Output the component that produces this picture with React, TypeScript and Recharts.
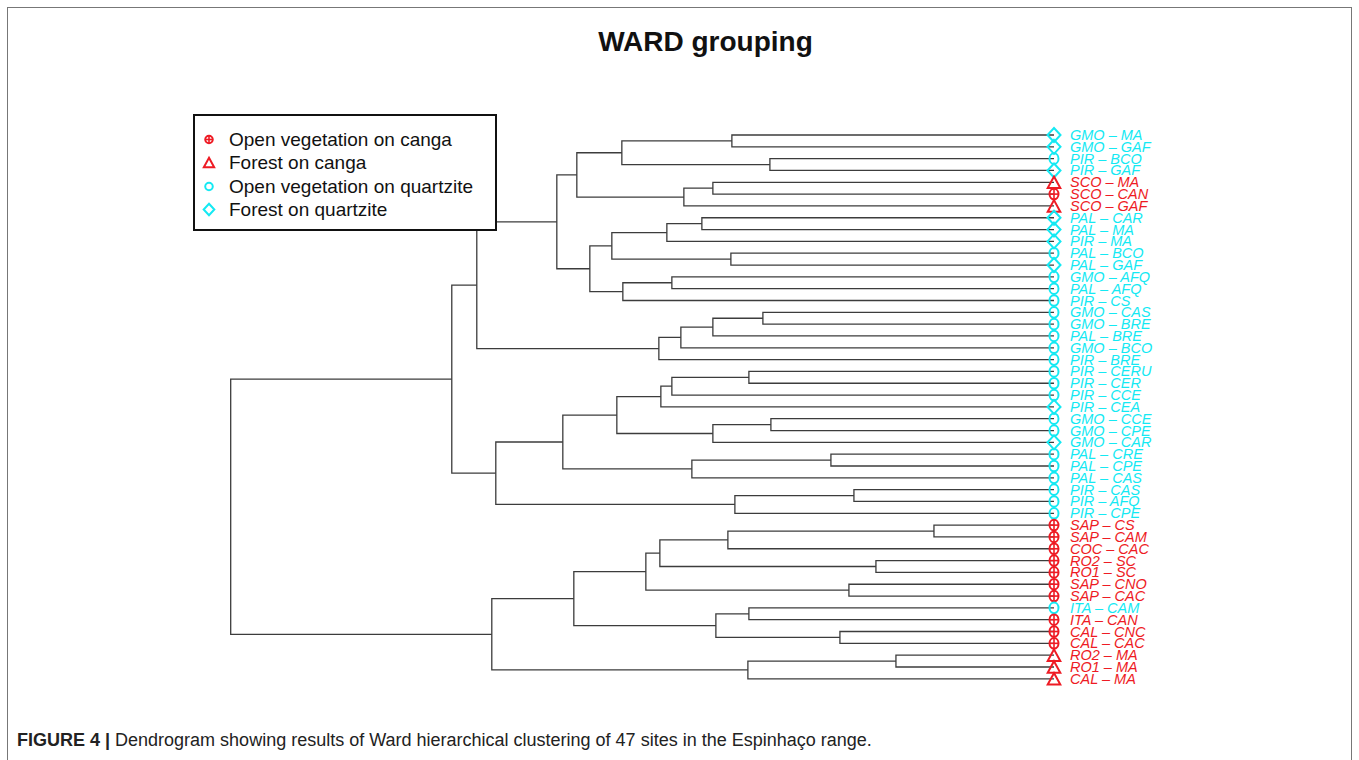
import React from 'react';
import { ScatterChart, Scatter, XAxis, YAxis, Legend } from 'recharts';

// Leaf labels in display order (top to bottom)
const leafLabels = [
  'GMO – MA', 'GMO – GAF', 'PIR – BCO', 'PIR – GAF', 'SCO – MA', 'SCO – CAN', 'SCO – GAF',
  'PAL – CAR', 'PAL – MA', 'PIR – MA', 'PAL – BCO', 'PAL – GAF', 'GMO – AFQ', 'PAL – AFQ',
  'PIR – CS', 'GMO – CAS', 'GMO – BRE', 'PAL – BRE', 'GMO – BCO', 'PIR – BRE', 'PIR – CERU',
  'PIR – CER', 'PIR – CCE', 'PIR – CEA', 'GMO – CCE', 'GMO – CPE', 'GMO – CAR', 'PAL – CRE',
  'PAL – CPE', 'PAL – CAS', 'PIR – CAS', 'PIR – AFQ', 'PIR – CPE', 'SAP – CS', 'SAP – CAM',
  'COC – CAC', 'RO2 – SC', 'RO1 – SC', 'SAP – CNO', 'SAP – CAC', 'ITA – CAM', 'ITA – CAN',
  'CAL – CNC', 'CAL – CAC', 'RO2 – MA', 'RO1 – MA', 'CAL – MA',
];

// ovc = open vegetation on canga, fc = forest on canga,
// ovq = open vegetation on quartzite, fq = forest on quartzite
const leafTypes = [
  'fq', 'fq', 'ovq', 'fq', 'fc', 'ovc', 'fc',
  'fq', 'fq', 'fq', 'ovq', 'fq', 'ovq', 'ovq',
  'ovq', 'ovq', 'ovq', 'ovq', 'ovq', 'ovq', 'ovq',
  'ovq', 'ovq', 'fq', 'ovq', 'ovq', 'fq', 'ovq',
  'ovq', 'ovq', 'ovq', 'ovq', 'ovq', 'ovc', 'ovc',
  'ovc', 'ovc', 'ovc', 'ovc', 'ovc', 'ovq', 'ovc',
  'ovc', 'ovc', 'fc', 'fc', 'fc',
];

// hclust-style merge table: negative = leaf (1-based display position), positive = earlier merge row
const merges: [number, number, number][] = [
  [-1, -2, 3.22], [-3, -4, 2.84], [-5, -6, 3.41], [-8, -9, 3.52], [-11, -12, 3.23],
  [-13, -14, 3.82], [-16, -17, 2.91], [-21, -22, 3.05], [-25, -26, 2.83], [-28, -29, 2.23],
  [-31, -32, 2.0], [-34, -35, 1.2], [-37, -38, 1.78], [-39, -40, 2.05], [-41, -42, 3.05],
  [-43, -44, 2.14], [-45, -46, 1.58], [1, 2, 4.32], [3, -7, 3.7], [18, 19, 4.77],
  [4, -10, 3.87], [21, 5, 4.42], [6, -15, 4.31], [22, 23, 4.64], [20, 24, 4.97],
  [7, -18, 3.41], [26, -19, 3.73], [27, -20, 3.95], [25, 28, 5.77], [8, -23, 3.82],
  [30, -24, 3.93], [9, -27, 3.41], [31, 32, 4.37], [10, -30, 3.62], [33, 34, 4.91],
  [11, -33, 3.19], [35, 36, 5.58], [29, 37, 6.02], [12, -36, 3.26], [39, 13, 3.94],
  [40, 14, 4.08], [15, 16, 3.38], [41, 42, 4.8], [17, -47, 3.06], [43, 44, 5.62],
  [38, 45, 8.23],
];

const legendLabels = [
  'Open vegetation on canga',
  'Forest on canga',
  'Open vegetation on quartzite',
  'Forest on quartzite',
];
const legendTypes = ['ovc', 'fc', 'ovq', 'fq'];

const CYAN = '#14E9F3';
const RED = '#EE1B24';
const LINE = '#3c3c3c';
const typeColor: Record<string, string> = { ovc: RED, fc: RED, ovq: CYAN, fq: CYAN };

// Build dendrogram segments from the merge table
const nodeY: number[] = [];
const nodeH: number[] = [];
const ref = (r: number) => (r < 0 ? { y: -r - 1, h: 0 } : { y: nodeY[r - 1], h: nodeH[r - 1] });
const segments = merges.map(([a, b, h], i) => {
  const pa = ref(a);
  const pb = ref(b);
  nodeY[i] = (pa.y + pb.y) / 2;
  nodeH[i] = h;
  return [
    { h: pa.h, y: pa.y },
    { h, y: pa.y },
    { h, y: pb.y },
    { h: pb.h, y: pb.y },
  ];
});
const rootH = Math.max(...merges.map((m) => m[2]));
const leaves = leafLabels.map((label, i) => ({ h: 0, y: i, label, type: leafTypes[i] }));

function Marker({ type, cx, cy, s = 1, legend = false }: any) {
  const c = typeColor[type];
  const sw = 2;
  if (type === 'fq') {
    const w = 6.5 * s, hh = 7 * s;
    return <polygon points={`${cx},${cy - hh} ${cx + w},${cy} ${cx},${cy + hh} ${cx - w},${cy}`} fill="none" stroke={c} strokeWidth={sw} />;
  }
  if (type === 'fc') {
    const w = 6.3 * s, hh = 5.8 * s;
    return <polygon points={`${cx},${cy - hh} ${cx + w},${cy + hh} ${cx - w},${cy + hh}`} fill="none" stroke={c} strokeWidth={sw} strokeLinejoin="miter" />;
  }
  const rx = (legend ? 4.6 : 4.5) * s;
  const ry = (legend ? 4.6 : 5.3) * s;
  if (type === 'ovq') {
    return <ellipse cx={cx} cy={cy} rx={rx} ry={ry} fill="none" stroke={c} strokeWidth={sw} />;
  }
  return (
    <g>
      <ellipse cx={cx} cy={cy} rx={rx} ry={ry} fill="none" stroke={c} strokeWidth={sw} />
      <line x1={cx - rx} y1={cy} x2={cx + rx} y2={cy} stroke={c} strokeWidth={1.6} />
      <line x1={cx} y1={cy - ry} x2={cx} y2={cy + ry} stroke={c} strokeWidth={1.6} />
    </g>
  );
}

const LeafShape = (props: any) => {
  const { cx, cy, payload } = props;
  return (
    <g>
      <Marker type={payload.type} cx={cx} cy={cy} />
      <text
        x={cx + 16}
        y={cy + 5}
        fill={typeColor[payload.type]}
        fontStyle="italic"
        fontSize={14.5}
        fontFamily='"Liberation Sans", Arial, sans-serif'
      >
        {payload.label}
      </text>
    </g>
  );
};

const NoShape = () => <g />;

const LegendBox = () => (
  <div
    style={{
      width: 300,
      height: 113,
      border: '2px solid #111',
      background: '#fff',
      boxSizing: 'content-box',
      fontFamily: '"Liberation Sans", Arial, sans-serif',
      fontSize: 19,
      color: '#111',
      position: 'relative',
    }}
  >
    {legendLabels.map((lab, i) => (
      <div key={lab} style={{ position: 'absolute', left: 0, top: 12 + i * 23.3, height: 23, width: 300 }}>
        <svg width={30} height={23} style={{ position: 'absolute', left: 0, top: 0 }}>
          <Marker type={legendTypes[i]} cx={14} cy={11.5} s={0.82} legend />
        </svg>
        <span style={{ position: 'absolute', left: 34, top: 0, lineHeight: '23px', whiteSpace: 'nowrap' }}>{lab}</span>
      </div>
    ))}
  </div>
);

export default function App() {
  const W = 1359;
  const H = 760;
  return (
    <div style={{ position: 'absolute', left: 0, top: 0, width: W, height: H, overflow: 'hidden', background: '#fff' }}>
      <div style={{ position: 'absolute', left: 7, top: 7, width: 1343, height: 800, border: '1px solid #777' }} />
      <div
        style={{
          position: 'absolute',
          left: 505.5,
          top: 28,
          width: 400,
          textAlign: 'center',
          fontFamily: '"Liberation Sans", Arial, sans-serif',
          fontWeight: 'bold',
          fontSize: 28,
          lineHeight: '28px',
          color: '#111',
        }}
      >
        WARD grouping
      </div>
      <div style={{ position: 'absolute', left: 0, top: 0 }}>
        <ScatterChart width={W} height={H} margin={{ top: 135, bottom: 81.2, left: 230.7, right: 305 }}>
          <XAxis dataKey="h" type="number" domain={[0, rootH]} reversed hide />
          <YAxis dataKey="y" type="number" domain={[0, leafLabels.length - 1]} reversed hide />
          <Legend
            layout="vertical"
            align="center"
            verticalAlign="middle"
            content={() => <LegendBox />}
            wrapperStyle={{ left: 193, top: 114, width: 304, height: 117 }}
          />
          {segments.map((pts, i) => (
            <Scatter
              key={`m${i}`}
              data={pts}
              line={{ stroke: LINE, strokeWidth: 1.3 }}
              lineType="joint"
              shape={NoShape}
              isAnimationActive={false}
              legendType="none"
            />
          ))}
          <Scatter data={leaves} shape={LeafShape} isAnimationActive={false} legendType="none" />
        </ScatterChart>
      </div>
      <div
        style={{
          position: 'absolute',
          left: 17,
          top: 729,
          fontFamily: '"Liberation Sans", Arial, sans-serif',
          fontSize: 18,
          lineHeight: '22px',
          color: '#222',
          whiteSpace: 'nowrap',
        }}
      >
        <b>FIGURE 4 |</b> Dendrogram showing results of Ward hierarchical clustering of 47 sites in the Espinhaço range.
      </div>
    </div>
  );
}
